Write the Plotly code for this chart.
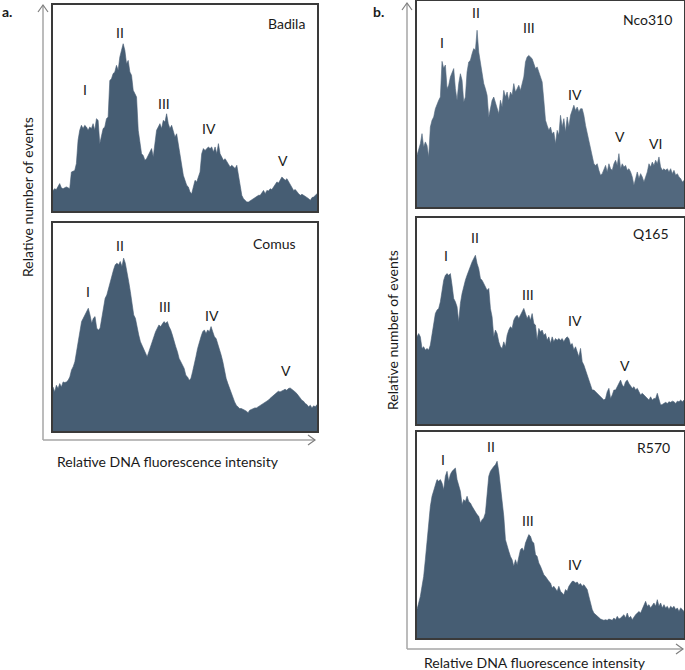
import plotly.graph_objects as go

W, H = 685, 670

# ---------------- data (relative number of events, % of panel height) -------------
badila = [10.0,10.8,10.4,11.7,13.3,11.3,10.8,11.3,11.7,11.3,10.8,18.9,19.4,19.7,23.0,34.3,39.2,41.6,40.0,41.6,
          40.8,39.2,40.8,40.0,42.4,39.2,44.8,44.0,32.7,35.9,40.0,40.8,44.8,45.6,63.4,64.2,66.7,67.5,70.7,68.3,
          74.8,78.0,81.2,78.0,71.5,73.1,67.5,65.9,58.6,57.0,55.3,39.2,34.3,27.8,27.0,24.6,25.4,27.0,28.6,30.3,
          26.2,34.3,39.2,40.8,42.4,40.0,44.0,43.2,47.2,42.4,40.0,41.6,38.3,35.9,37.5,32.7,27.8,21.4,17.3,14.9,
          12.5,11.7,9.2,8.4,12.5,14.9,14.1,16.5,18.9,27.8,30.3,29.4,30.3,31.1,30.3,31.1,28.6,31.1,27.8,32.7,
          27.8,26.2,24.6,25.4,23.8,23.0,21.4,22.2,21.4,20.6,22.2,17.3,14.1,7.6,6.0,5.2,4.4,4.4,4.9,5.5,
          6.0,6.5,6.8,7.6,7.6,8.7,10.0,8.4,10.0,9.7,10.8,10.4,11.7,12.5,14.1,13.6,14.9,16.5,15.7,14.9,
          15.7,14.1,12.5,11.7,10.0,10.4,9.2,8.4,7.6,8.1,7.6,7.1,6.8,6.0,5.2,6.5,6.8,7.6,8.4]

comus = [21.2,18.8,22.0,20.4,22.8,21.2,23.6,23.3,23.6,24.4,26.0,29.3,30.9,33.3,38.1,42.9,48.6,52.6,54.2,55.8,
         57.4,59.0,55.8,51.8,54.2,55.0,49.4,48.6,49.4,54.7,59.0,63.8,65.4,68.6,71.9,74.3,77.5,79.9,80.7,79.9,
         81.5,79.1,83.1,80.7,75.1,71.9,67.0,60.6,55.8,54.2,49.4,46.1,42.9,41.3,39.7,38.1,35.7,38.1,40.2,42.9,
         45.3,47.7,49.4,51.0,50.2,51.8,52.6,51.8,52.6,50.2,48.6,46.1,42.9,40.5,38.1,34.9,33.3,31.7,30.1,26.8,
         26.0,24.4,25.2,28.5,31.7,35.7,39.7,42.9,45.3,47.7,48.6,46.9,48.6,47.7,50.2,47.7,45.3,44.5,42.1,38.9,
         36.5,33.3,28.5,25.2,22.8,20.4,18.8,16.4,14.0,12.4,11.6,10.8,10.8,10.5,10.0,9.5,8.8,10.0,10.5,10.8,
         11.1,11.1,11.6,12.1,12.4,13.2,13.7,14.0,14.8,15.6,16.4,17.2,18.0,18.8,19.1,18.8,19.1,19.6,20.1,19.6,
         20.4,20.7,20.1,19.6,18.8,18.0,17.2,15.9,14.8,14.3,13.2,12.7,11.6,12.4,11.1,12.1,11.6,12.7]

nco310 = [25.1,28.3,30.7,35.6,29.1,31.6,29.9,24.3,38.8,42.1,43.7,47.7,50.2,51.8,53.4,70.7,67.3,68.9,57.4,59.1,
          63.1,65.5,67.2,57.4,51.8,59.9,64.7,61.5,51.0,53.4,65.5,70.4,71.2,74.4,76.9,76.1,85.8,75.2,69.6,63.1,
          59.9,57.4,54.2,43.7,48.5,51.8,53.4,51.0,47.7,45.3,51.8,48.5,56.6,53.4,55.8,51.8,55.8,54.2,59.9,55.8,
          57.4,59.1,56.6,59.9,63.1,70.4,72.8,73.6,72.8,72.0,69.6,67.2,68.0,65.5,63.1,60.7,51.8,42.1,39.6,37.2,
          38.8,35.6,36.4,30.7,37.2,34.8,44.5,38.8,42.9,36.4,43.7,38.8,44.5,46.9,49.4,46.9,48.5,46.1,47.7,47.7,
          44.5,39.6,35.6,31.6,29.1,24.3,21.0,20.2,21.0,17.8,15.4,16.2,18.6,20.2,17.0,21.0,18.6,17.8,21.0,22.7,
          20.2,25.9,18.6,21.0,19.4,20.2,17.8,18.6,17.0,14.6,10.5,14.6,17.0,13.8,16.2,14.6,12.1,14.6,17.0,21.0,
          19.4,21.8,20.2,22.7,21.0,24.3,19.4,17.8,18.6,17.8,18.6,17.0,18.6,16.2,17.8,15.4,16.2,14.6,13.8,12.1,
          12.9]

q165 = [42.3,43.9,42.3,36.7,37.5,35.9,36.7,35.9,38.3,43.1,49.6,53.6,55.3,56.1,59.3,65.8,69.8,72.2,73.0,72.2,
        73.0,67.4,60.9,59.3,56.9,49.6,58.5,63.3,67.4,69.8,72.2,74.6,77.1,78.7,80.3,81.9,77.9,75.4,70.6,69.8,
        68.2,66.6,64.9,65.8,56.1,52.0,42.3,45.6,43.9,39.9,37.5,36.7,39.9,37.5,43.1,45.6,47.2,46.4,50.4,52.0,
        52.8,51.2,52.8,54.4,56.1,53.6,51.2,52.8,50.4,53.6,48.8,48.0,40.7,46.4,44.7,45.6,43.1,43.9,40.7,42.3,
        39.1,42.3,39.9,41.5,40.7,41.5,40.7,41.5,39.9,41.5,42.3,41.5,38.3,39.1,35.9,37.5,35.1,32.6,36.7,30.2,
        28.6,26.2,24.6,21.3,18.9,16.5,16.5,15.7,14.9,14.1,13.2,12.8,11.6,12.4,15.7,17.3,12.4,14.1,16.5,16.5,
        18.1,19.7,21.3,18.9,18.1,20.5,21.3,19.7,18.1,17.3,18.1,16.5,17.3,15.7,14.1,14.9,14.1,13.2,12.4,11.6,
        13.2,11.6,12.4,12.4,14.9,11.6,9.2,9.5,10.0,10.5,10.0,10.8,10.5,11.1,10.8,10.0,11.1,10.8,11.6,10.8,
        11.6]

r570 = [13.8,17.0,20.2,25.1,29.9,38.0,47.7,57.4,63.9,68.8,72.0,75.2,76.9,76.1,76.9,75.2,72.0,78.5,80.9,76.1,
        79.4,80.9,81.7,82.5,76.9,74.4,71.2,64.7,67.2,66.3,68.8,66.3,65.5,63.9,62.3,60.7,59.9,59.1,55.8,57.4,
        58.3,60.7,70.4,78.5,80.9,82.5,83.3,84.1,85.8,80.9,73.6,67.2,59.1,47.7,44.5,42.1,39.6,38.0,34.8,38.0,
        35.6,39.6,42.9,43.7,42.1,46.1,48.5,50.2,49.4,46.9,46.1,40.5,39.6,36.4,34.8,32.4,30.7,29.9,28.3,27.5,
        26.7,24.3,25.1,23.5,22.7,25.1,22.7,21.8,21.0,23.5,22.7,25.1,26.7,27.5,27.5,26.7,27.2,25.9,26.4,25.1,
        25.9,24.3,23.5,20.2,17.0,13.8,12.1,11.3,10.5,9.7,9.2,8.9,8.6,8.9,8.6,9.2,8.9,8.6,9.7,8.9,
        10.5,9.2,9.7,10.5,11.3,9.7,12.1,9.7,10.5,8.9,10.5,11.3,12.1,12.9,12.1,13.8,16.2,17.8,15.4,16.2,
        14.6,16.2,17.0,15.4,18.6,15.4,17.0,14.6,16.2,14.6,15.4,13.8,15.4,14.6,15.4,13.8,14.6,12.9,14.6,13.8,
        12.9]

samples = ["Badila", "Comus", "Nco310", "Q165", "R570"]
series = [badila, comus, nco310, q165, r570]
peak_names = [["I", "II", "III", "IV", "V"],
              ["I", "II", "III", "IV", "V"],
              ["I", "II", "III", "IV", "V", "VI"],
              ["I", "II", "III", "IV", "V"],
              ["I", "II", "III", "IV"]]

# label placement (channel, height %) - layout, kept apart from data
peak_pos = [[(19, 59), (40, 86.6), (66.4, 52), (93.6, 40), (137.6, 24.3)],
            [(21, 67), (40, 89.2), (66.4, 60), (94.4, 55.3), (138.6, 29.1)],
            [(15, 79.8), (35.6, 94.3), (67.4, 87.1), (94.6, 54.5), (121.4, 34.3), (143, 30.7)],
            [(17.4, 81.6), (35, 90.5), (66.8, 62.8), (94.6, 50.4), (124.6, 28.6)],
            [(15.6, 86.6), (44.4, 93), (66.6, 57.1), (94.6, 35.9)]]
name_pos = [(139.6, 90.9), (132, 90), (138, 90.9), (140, 92.7), (142, 92.6)]

# panel boxes in pixels (left, top, right, bottom)
boxes = [(53, 5, 317, 211), (53, 223, 317, 431),
         (417, 1, 684, 207), (417, 218, 684, 424), (417, 432, 684, 638)]

FILL = "#465d73"
FILL_LIGHT = "#52687e"
FONT = "Lato"
TXT = "#1a1a1a"

fig = go.Figure()
layout = dict(width=W, height=H, margin=dict(l=0, r=0, t=0, b=0),
              paper_bgcolor="white", plot_bgcolor="white", showlegend=False,
              font=dict(family=FONT, size=14, color=TXT))
annotations = []
shapes = []


def note(**kw):
    d = dict(showarrow=False, xanchor="center", yanchor="middle",
             font=dict(family=FONT, size=14, color=TXT))
    d.update(kw)
    annotations.append(d)


for i, (name, vals) in enumerate(zip(samples, series)):
    n = i + 1
    xs = list(range(len(vals)))
    col = FILL_LIGHT if name == "Nco310" else FILL
    fig.add_trace(go.Scatter(x=xs, y=vals, mode="lines", fill="tozeroy",
                             fillcolor=col, line=dict(color=col, width=0.6),
                             xaxis=f"x{n}", yaxis=f"y{n}", hoverinfo="skip"))
    l, t, r, b = boxes[i]
    ax = dict(showticklabels=False, ticks="", showgrid=False, zeroline=False,
              showline=True, mirror=True, linecolor="#3a3a3a", linewidth=1.5,
              fixedrange=True)
    layout[f"xaxis{n}"] = dict(ax, domain=[l / W, r / W], range=[0, len(vals) - 1],
                               anchor=f"y{n}")
    layout[f"yaxis{n}"] = dict(ax, domain=[1 - b / H, 1 - t / H], range=[0, 100],
                               anchor=f"x{n}")
    for lab, (px_, py_) in zip(peak_names[i], peak_pos[i]):
        note(x=px_, y=py_, xref=f"x{n}", yref=f"y{n}", text=lab)
    note(x=name_pos[i][0], y=name_pos[i][1], xref=f"x{n}", yref=f"y{n}", text=name)


def px(x):
    return x / W


def py(y):
    return 1 - y / H


def line(x0, y0, x1, y1, color="#a6a6a6", w=1.5):
    shapes.append(dict(type="line", xref="paper", yref="paper",
                       x0=px(x0), y0=py(y0), x1=px(x1), y1=py(y1),
                       line=dict(color=color, width=w)))


def path(pts, color="#7f7f7f", w=1.2):
    d = "M " + " L ".join(f"{px(a):.5f},{py(b):.5f}" for a, b in pts)
    shapes.append(dict(type="path", xref="paper", yref="paper", path=d,
                       line=dict(color=color, width=w)))


# axis arrows, panel a
line(43, 440, 43, 5)
line(43, 440, 315, 440)
path([(38, 12), (43, 5), (48, 12)])
path([(308, 435), (315, 440), (308, 445)])
# axis arrows, panel b
line(407, 649, 407, 3)
line(407, 649, 683, 649)
path([(402, 10), (407, 3), (412, 10)])
path([(676, 644), (683, 649), (676, 654)])

# titles and axis labels
note(x=px(0), y=py(11), xref="paper", yref="paper", text="<b>a.</b>", xanchor="left")
note(x=px(371), y=py(11), xref="paper", yref="paper", text="<b>b.</b>", xanchor="left")
note(x=px(27), y=py(197), xref="paper", yref="paper", text="Relative number of events",
     textangle=-90)
note(x=px(392), y=py(330), xref="paper", yref="paper", text="Relative number of events",
     textangle=-90)
note(x=px(168), y=py(461), xref="paper", yref="paper",
     text="Relative DNA fluorescence intensity")
note(x=px(535), y=py(662), xref="paper", yref="paper",
     text="Relative DNA fluorescence intensity")

layout["annotations"] = annotations
layout["shapes"] = shapes
fig.update_layout(**layout)
fig.write_html("out.html", config={"displayModeBar": False},
               post_script="document.body.style.margin='0';"
                           "document.body.style.overflow='hidden';")
